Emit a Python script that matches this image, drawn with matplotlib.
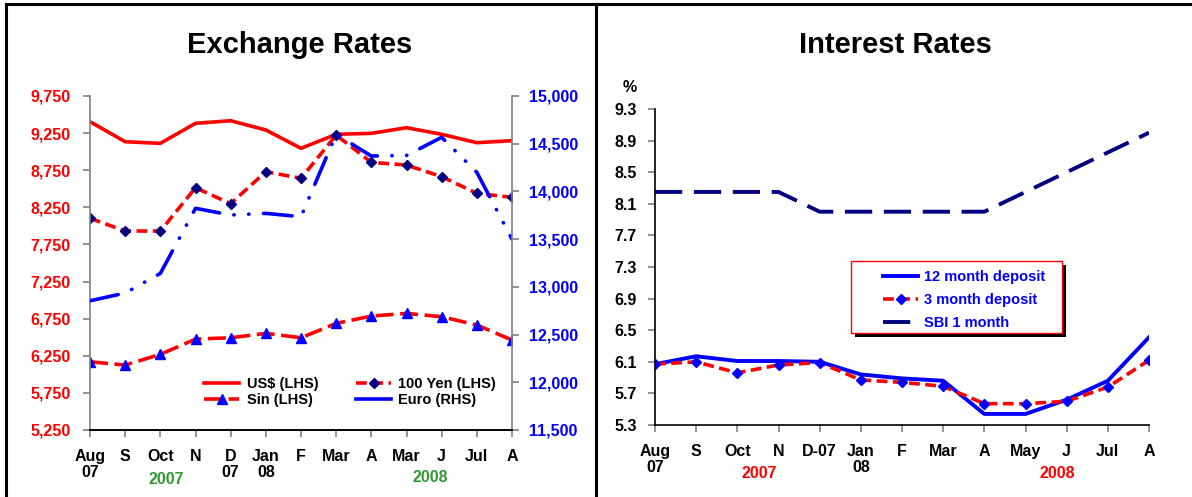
import matplotlib.pyplot as plt
from matplotlib.lines import Line2D
from matplotlib.patches import Rectangle
from matplotlib.ticker import FuncFormatter

plt.rcParams['font.family'] = ['Liberation Sans', 'DejaVu Sans']
plt.rcParams['font.weight'] = 'bold'

# exchange rates
fx_labels = ['Aug\n07', 'S', 'Oct', 'N', 'D\n07', 'Jan\n08', 'F', 'Mar', 'A', 'Mar', 'J', 'Jul', 'A']
usd = [9404, 9134, 9112, 9382, 9417, 9292, 9045, 9234, 9247, 9323, 9234, 9121, 9148]
yen = [8102, 7931, 7931, 8514, 8299, 8730, 8641, 9224, 8856, 8820, 8663, 8438, 8385]
sin = [6169, 6125, 6269, 6475, 6493, 6552, 6493, 6686, 6785, 6821, 6776, 6664, 6462]
euro = [12854, 12935, 13141, 13823, 13753, 13770, 13735, 14599, 14371, 14377, 14567, 14200, 13500]
lhs_ticks = [5250, 5750, 6250, 6750, 7250, 7750, 8250, 8750, 9250, 9750]
rhs_ticks = [11500, 12000, 12500, 13000, 13500, 14000, 14500, 15000]

# interest rates
ir_labels = ['Aug\n07', 'S', 'Oct', 'N', 'D-07', 'Jan\n08', 'F', 'Mar', 'A', 'May', 'J', 'Jul', 'A']
dep12 = [6.07, 6.17, 6.11, 6.11, 6.10, 5.94, 5.89, 5.86, 5.44, 5.44, 5.62, 5.86, 6.41]
dep3 = [6.07, 6.10, 5.96, 6.06, 6.09, 5.87, 5.84, 5.79, 5.57, 5.57, 5.60, 5.78, 6.12]
sbi = [8.25, 8.25, 8.25, 8.25, 8.0, 8.0, 8.0, 8.0, 8.0, 8.25, 8.5, 8.75, 9.0]
ir_ticks = [5.3, 5.7, 6.1, 6.5, 6.9, 7.3, 7.7, 8.1, 8.5, 8.9, 9.3]

W, H = 1192, 497
fig = plt.figure(figsize=(W / 100, H / 100), dpi=100)

def px(x0, y0, x1, y1):
  # axes rect from pixel box
  return [x0 / W, 1 - y1 / H, (x1 - x0) / W, (y1 - y0) / H]

def style_axis(ax):
  for s in ['left', 'right', 'bottom', 'top']:
    ax.spines[s].set_color('#808080')
    ax.spines[s].set_linewidth(1.2)
  ax.spines['top'].set_visible(False)
  ax.spines['bottom'].set_color('black')
  ax.tick_params(axis='both', colors='#808080', length=5, width=1.2, labelsize=11.5)

red = '#FF0000'
blue = '#0000FF'
navy = '#000080'
green = '#339933'

# ---- left chart
ax = fig.add_axes(px(90, 96, 512, 430))
x = range(len(fx_labels))
ax.plot(x, usd, color=red, lw=2.6, label='US$ (LHS)')
ax.plot(x, yen, color=red, lw=2.6, dashes=(3, 1.5), marker='D', ms=5,
        mfc=navy, mec=navy, label='100 Yen (LHS)')
ax.plot(x, sin, color=red, lw=2.6, dashes=(5, 1.8), marker='^', ms=7,
        mfc=blue, mec=blue, label='Sin (LHS)')
ax.set_xlim(0, 12)
ax.set_ylim(5250, 9750)
ax.set_yticks(lhs_ticks)
ax.yaxis.set_major_formatter(FuncFormatter(lambda v, p: '{:,.0f}'.format(v)))
ax.set_xticks(list(x))
ax.set_xticklabels(fx_labels, linespacing=1.05)
style_axis(ax)
ax.spines['right'].set_visible(False)
ax.tick_params(axis='y', labelcolor=red, pad=9)
ax.tick_params(axis='x', labelcolor='black', pad=9)
for t in ax.get_xticklabels() + ax.get_yticklabels():
  t.set_fontweight('bold')

ax2 = ax.twinx()
ax2.plot(x, euro, color=blue, lw=2.6, dashes=(8, 4, 0.1, 4, 0.1, 4),
         dash_capstyle='round', label='Euro (RHS)')
ax2.set_ylim(11500, 15000)
ax2.set_yticks(rhs_ticks)
ax2.yaxis.set_major_formatter(FuncFormatter(lambda v, p: '{:,.0f}'.format(v)))
style_axis(ax2)
ax2.spines['left'].set_visible(False)
ax2.tick_params(axis='y', labelcolor=blue, pad=7)
for t in ax2.get_yticklabels():
  t.set_fontweight('bold')

h1, l1 = ax.get_legend_handles_labels()
h2, l2 = ax2.get_legend_handles_labels()
euro_h = Line2D([], [], color=blue, lw=2.6)
handles = [h1[0], h1[2], h1[1], euro_h]
labels = [l1[0], l1[2], l1[1], l2[0]]
fig.legend(handles, labels, ncol=2, frameon=False, loc='upper left',
           bbox_to_anchor=(197 / W, 1 - 370 / H), fontsize=10.5,
           handlelength=2.4, columnspacing=2.6, labelspacing=0.1,
           borderpad=0, handletextpad=0.5)

fig.text(300 / W, 1 - 45 / H, 'Exchange Rates', ha='center', va='center',
         fontsize=21, fontweight='bold')
fig.text(166 / W, 1 - 480 / H, '2007', ha='center', va='center',
         fontsize=11.5, color=green, fontweight='bold')
fig.text(430 / W, 1 - 478 / H, '2008', ha='center', va='center',
         fontsize=11.5, color=green, fontweight='bold')

# ---- right chart
bx = fig.add_axes(px(655, 109, 1149, 425))
x = range(len(ir_labels))
bx.plot(x, dep12, color=blue, lw=2.8, label='12 month deposit')
bx.plot(x, dep3, color=red, lw=2.6, dashes=(3, 1.5), marker='D', ms=5,
        mfc=blue, mec=blue, label='3 month deposit')
bx.plot(x, sbi, color=navy, lw=2.8, dashes=(7, 3), label='SBI 1 month')
bx.set_xlim(0, 12)
bx.set_ylim(5.3, 9.3)
bx.set_yticks(ir_ticks)
bx.yaxis.set_major_formatter(FuncFormatter(lambda v, p: '{:.1f}'.format(v)))
bx.set_xticks(list(x))
bx.set_xticklabels(ir_labels, linespacing=1.05)
style_axis(bx)
bx.spines['right'].set_visible(False)
bx.spines['left'].set_color('black')
bx.tick_params(axis='y', labelcolor='black', pad=8)
bx.tick_params(axis='x', labelcolor='black', pad=9)
for t in bx.get_xticklabels() + bx.get_yticklabels():
  t.set_fontweight('bold')

# legend box with black shadow, drawn by hand
fig.add_artist(Rectangle((855 / W, 1 - 337 / H), 211 / W, 72 / H,
                         transform=fig.transFigure, facecolor='black',
                         edgecolor='none', zorder=5))
fig.add_artist(Rectangle((851 / W, 1 - 333 / H), 211 / W, 72 / H,
                         transform=fig.transFigure, facecolor='white',
                         edgecolor=red, lw=1, zorder=6))
leg = fig.legend(*bx.get_legend_handles_labels(), loc='upper left',
                 bbox_to_anchor=(876 / W, 1 - 263 / H), frameon=False,
                 fontsize=10.5, handlelength=2.4, labelspacing=0.6,
                 borderpad=0, handletextpad=0.4)
leg.set_zorder(7)
for t in leg.get_texts():
  t.set_color(blue)

fig.text(895 / W, 1 - 45 / H, 'Interest Rates', ha='center', va='center',
         fontsize=21, fontweight='bold')
fig.text(630 / W, 1 - 88 / H, '%', ha='center', va='center', fontsize=11.5,
         fontweight='bold')
fig.text(759 / W, 1 - 474 / H, '2007', ha='center', va='center',
         fontsize=11.5, color=red, fontweight='bold')
fig.text(1057 / W, 1 - 474 / H, '2008', ha='center', va='center',
         fontsize=11.5, color=red, fontweight='bold')

# panel borders
fig.add_artist(Line2D([6 / W, 1], [1 - 4 / H, 1 - 4 / H], color='black', lw=2.2))
fig.add_artist(Line2D([6 / W, 6 / W], [0, 1 - 4 / H], color='black', lw=2.2))
fig.add_artist(Line2D([596 / W, 596 / W], [0, 1 - 4 / H], color='black', lw=2.2))

fig.savefig('out.png', dpi=100)
